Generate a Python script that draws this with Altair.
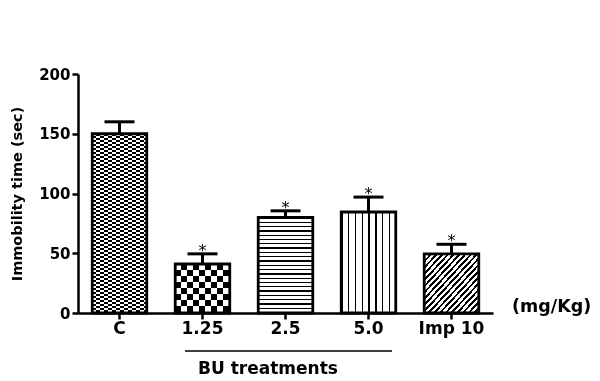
import altair as alt
import pandas as pd

groups = ["C", "1.25", "2.5", "5.0", "Imp 10"]
means = [150, 41, 80, 84.5, 49.5]
sems = [10, 8.5, 5.5, 12.5, 8]
stars = ["", "*", "*", "*", "*"]

df = pd.DataFrame({"group": groups, "mean": means, "sem": sems, "star": stars})
df["top"] = df["mean"] + df["sem"]

W, H = 415, 239
YMAX = 200
P_IN, P_OUT = 0.343, 0.1715
STEP = W / (len(groups) - P_IN + 2 * P_OUT)
BW = STEP * (1 - P_IN)
FONT = "DejaVu Sans"


def px_h(v):
    return v * H / YMAX


def stripes(period_px, length_px, dark_frac, dark, light, direction):
    p = period_px / length_px
    stops = []
    s = 0.0
    while s < 1 - 1e-9:
        m = min(s + p * dark_frac, 1.0)
        e = min(s + p, 1.0)
        stops += [
            {"offset": round(s, 5), "color": dark},
            {"offset": round(m, 5), "color": dark},
            {"offset": round(m, 5), "color": light},
            {"offset": round(e, 5), "color": light},
        ]
        s += p
    if direction == "x":
        xy = dict(x1=0, y1=0, x2=1, y2=0)
    elif direction == "y":
        xy = dict(x1=0, y1=0, x2=0, y2=1)
    else:
        xy = dict(x1=0, y1=0, x2=1, y2=1)
    return alt.LinearGradient(gradient="linear", stops=stops, **xy)


h = {g: px_h(m) for g, m in zip(groups, means)}
fills = {
    "C": stripes(8, BW, 0.5, "black", "white", "x"),
    "1.25": stripes(12, BW, 0.5, "black", "white", "x"),
    "2.5": stripes(4.3, h["2.5"], 0.28, "black", "white", "y"),
    "5.0": stripes(6.8, BW, 0.2, "black", "white", "x"),
    "Imp 10": stripes(1, 19, 0.45, "black", "white", "d"),
}
overlays = {
    "C": stripes(4, h["C"], 0.5, "white", "black", "y"),
    "1.25": stripes(12, h["1.25"], 0.5, "white", "black", "y"),
}

x_enc = alt.X(
    "group:N",
    scale=alt.Scale(domain=groups, paddingInner=P_IN, paddingOuter=P_OUT),
    axis=alt.Axis(
        title=None, labelAngle=0, labelFont=FONT, labelFontSize=17,
        labelFontWeight="bold", labelColor="black", labelPadding=1,
        tickSize=6, tickWidth=2.5, tickColor="black",
        domainWidth=2.5, domainColor="black", grid=False,
    ),
)
y_enc = alt.Y(
    "mean:Q",
    scale=alt.Scale(domain=[0, YMAX], nice=False),
    axis=alt.Axis(
        values=[0, 50, 100, 150, 200], title="Immobility time (sec)",
        labelFont=FONT, labelFontSize=15, labelFontWeight="bold",
        labelColor="black", labelPadding=2,
        tickSize=6, tickWidth=2.5, tickColor="black",
        domainWidth=2.5, domainColor="black", grid=False,
        titleFont=FONT, titleFontSize=14.5, titleFontWeight="bold",
        titleColor="black", titleAngle=270, titleX=-61, titleY=H / 2,
        titleAlign="center", titleBaseline="middle",
    ),
)

base = alt.Chart(df).encode(x=x_enc, y=y_enc)

layers = []
for g in groups:
    layers.append(
        base.transform_filter(alt.datum.group == g).mark_bar(fill=fills[g], strokeWidth=0)
    )
for g, grad in overlays.items():
    layers.append(
        base.transform_filter(alt.datum.group == g).mark_bar(
            fill=grad, strokeWidth=0, blend="difference"
        )
    )
layers.append(base.mark_bar(fillOpacity=0, stroke="black", strokeWidth=2.8))
layers.append(base.mark_rule(color="black", strokeWidth=3).encode(y2="top:Q"))
layers.append(
    base.mark_tick(color="black", opacity=1, size=30, thickness=3).encode(y="top:Q")
)
layers.append(
    base.mark_text(font=FONT, fontSize=16, color="black", baseline="middle", dy=-3)
    .encode(y="top:Q", text="star:N")
)

ann = pd.DataFrame({"t": ["(mg/Kg)"]})
layers.append(
    alt.Chart(ann).mark_text(
        font=FONT, fontSize=17.5, fontWeight="bold", align="left", baseline="middle", color="black"
    ).encode(x=alt.value(434), y=alt.value(233), text="t:N")
)
lab = pd.DataFrame({"t": ["BU treatments"]})
layers.append(
    alt.Chart(lab).mark_text(
        font=FONT, fontSize=17, fontWeight="bold", align="center", baseline="middle", color="black"
    ).encode(x=alt.value(190), y=alt.value(295), text="t:N")
)
layers.append(
    alt.Chart(lab).mark_rule(color="black", strokeWidth=1.3).encode(
        x=alt.value(107), x2=alt.value(314), y=alt.value(277)
    )
)

chart = (
    alt.layer(*layers)
    .properties(
        width=W, height=H,
        autosize=alt.AutoSizeParams(type="none"),
        padding={"left": 78, "top": 74, "right": 107, "bottom": 68},
        background="white",
    )
    .configure_view(stroke=None)
)

chart.save("out.html", embed_options={"renderer": "svg", "actions": False})
